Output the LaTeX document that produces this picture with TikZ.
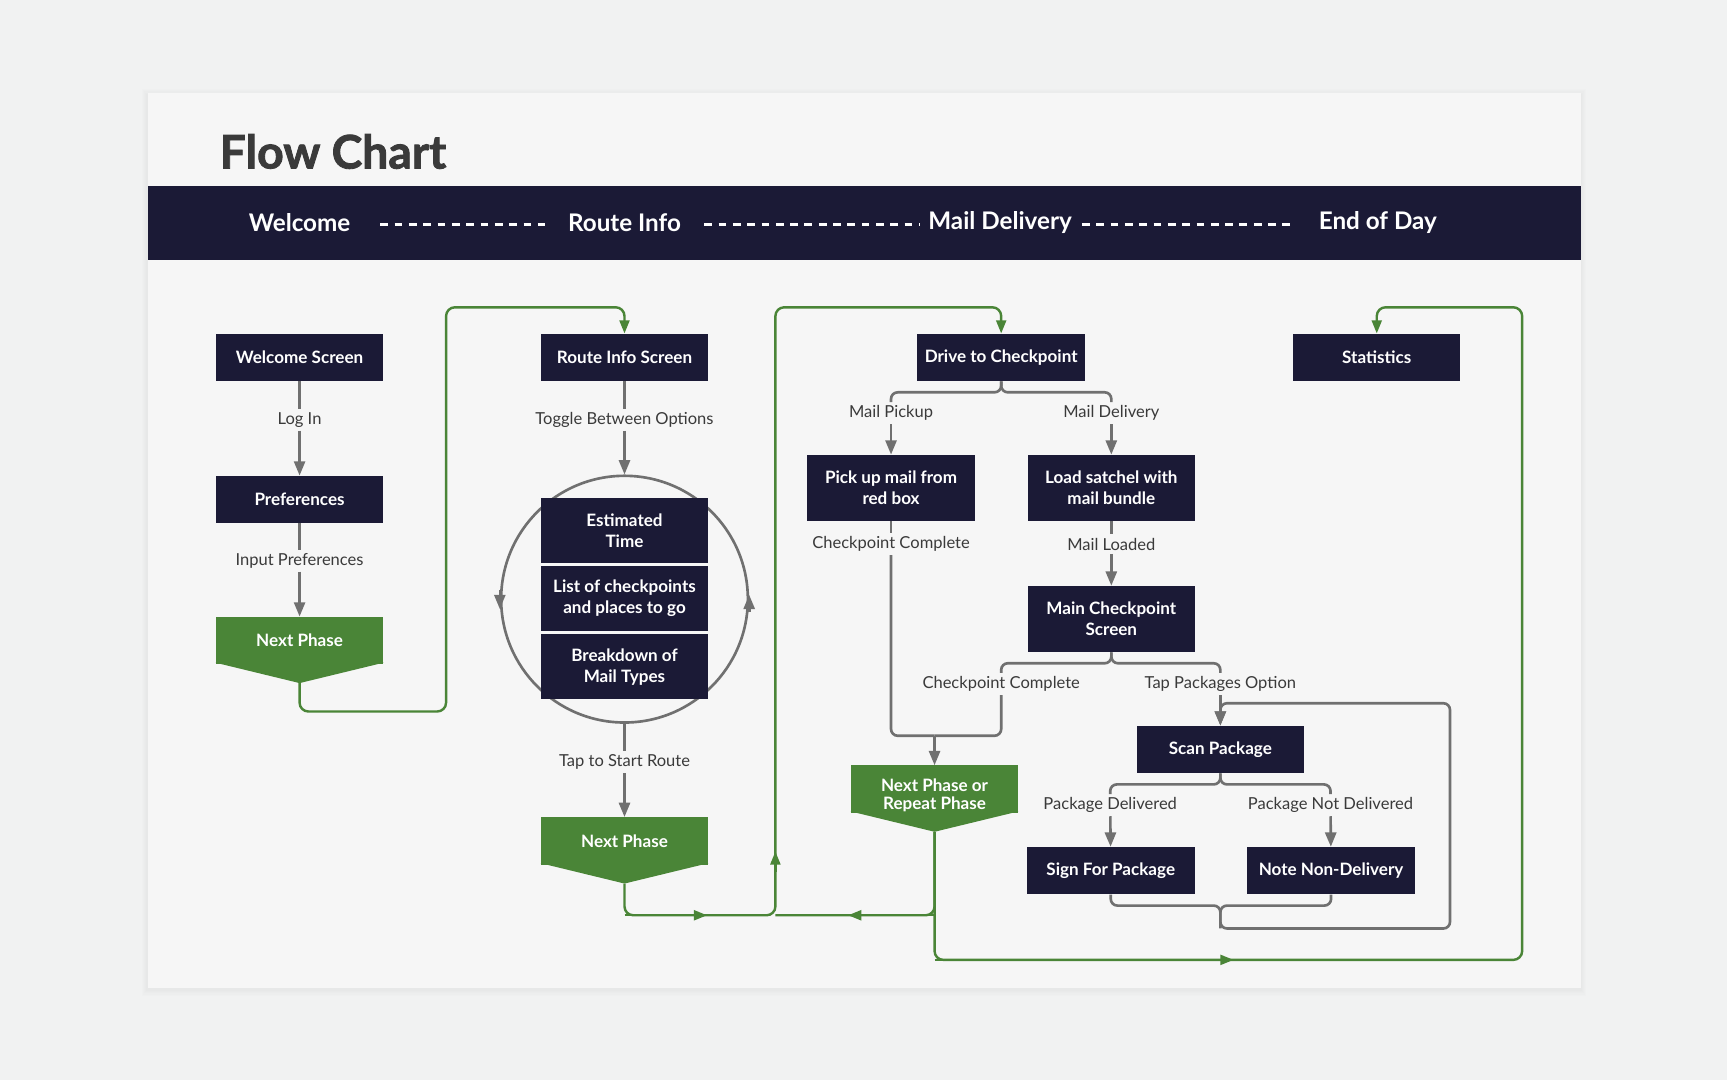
\documentclass[tikz,border=0pt]{standalone}
\usepackage{fontspec}
\setmainfont{Lato}
\newfontfamily\heavyfont[BoldFeatures={FakeBold=1.8}]{Lato}
\usetikzlibrary{arrows.meta,positioning,calc}
\definecolor{navy}{HTML}{1B1A36}
\definecolor{leaf}{HTML}{4A8537}
\definecolor{wire}{HTML}{707070}
\definecolor{card}{HTML}{F6F6F6}
\definecolor{page}{HTML}{F1F2F2}
\definecolor{ink}{HTML}{3A3A3A}
\tikzset{
  screen/.style={fill=navy,text=white,font=\bfseries\fontsize{15.5}{19}\selectfont,
    minimum width=152pt,minimum height=43pt,inner sep=0pt,align=center},
  phase/.style={fill=leaf,text=white,font=\bfseries\fontsize{15.5}{17}\selectfont,
    minimum width=152pt,minimum height=43pt,inner sep=0pt,align=center},
  lbl/.style={font=\fontsize{15}{17}\selectfont,text=ink,inner sep=3pt},
  band/.style={font=\bfseries\fontsize{22}{24}\selectfont,text=white,inner sep=0pt},
  banddash/.style={white,line width=2.6pt,dash pattern=on 7pt off 6pt},
  grayline/.style={wire,line width=2.4pt,rounded corners=6pt},
  flow/.style={grayline,-{Triangle[width=10pt,length=13pt]}},
  greenline/.style={leaf,line width=2.2pt,rounded corners=8pt},
  greenflow/.style={greenline,-{Triangle[width=9pt,length=12pt]}},
}
\begin{document}
\begin{tikzpicture}[x=1pt,y=-1pt]
\useasboundingbox (0,0) rectangle (1568,981);
\fill[page] (0,0) rectangle (1568,981);
% card and shadow
\foreach \s in {1,...,5}
\fill[black,opacity=0.008] (134-\s,84-\s+2) rectangle (1435+\s,897+\s+2);
\fill[card] (134,84) rectangle (1435,897);
\node[anchor=base west,font=\heavyfont\bfseries\fontsize{42}{44}\selectfont,text=ink] (title) at (196,153) {Flow Chart};
% phase band
\fill[navy] (134,169) rectangle (1435,236);
\node[band] (bwelcome) at (272,202) {Welcome};
\node[band] (broute) at (567,202) {Route Info};
\node[band] (bmail) at (908,202) {Mail Delivery};
\node[band] (bend) at (1251,202) {End of Day};
\draw[banddash,shorten <=27pt,shorten >=21pt] ([yshift=-2pt]bwelcome.east) -- ([yshift=-2pt]broute.west);
\draw[banddash,shorten <=21pt,shorten >=7pt] ([yshift=-2pt]broute.east) -- ([yshift=-2pt]bmail.west);
\draw[banddash,shorten <=9pt,shorten >=20pt] ([yshift=-2pt]bmail.east) -- ([yshift=-2pt]bend.west);

% welcome column
\node[screen] (welcome) at (272,324.5) {Welcome Screen};
\node[lbl] (login) at (272,381) {Log In};
\node[screen] (prefs) at (272,453.5) {Preferences};
\node[lbl] (inprefs) at (272,509) {Input Preferences};
\node[phase] (next1) at (272,581.5) {Next Phase};
\fill[leaf] ([yshift=1.5pt]next1.south west) -- ([yshift=1.5pt]next1.south east) -- ($(next1.south)+(0,17)$) coordinate (tip1) -- cycle;
\draw[grayline] (welcome) -- (login);
\draw[flow] (login) -- (prefs);
\draw[grayline] (prefs) -- (inprefs);
\draw[flow] (inprefs) -- (next1);

% route info column
\node[screen] (route) at (567,324.5) {Route Info Screen};
\node[lbl] (toggle) at (567,381) {Toggle Between Options};
\node[circle,draw=wire,line width=2.4pt,minimum size=224pt,inner sep=0pt] (loop) at (567,544) {};
\draw[wire,line width=2.4pt,-{Triangle[width=10pt,length=13pt]}] ($(loop.west)+(0,-8)$) -- ($(loop.west)+(0,9)$);
\draw[wire,line width=2.4pt,-{Triangle[width=10pt,length=13pt]}] ($(loop.east)+(0,12)$) -- ($(loop.east)+(0,-4)$);
\node[screen,minimum height=59pt] (esttime) at (567,481.5) {Estimated\\Time};
\node[screen,minimum height=59pt] (stops) at (567,543.5) {List of checkpoints\\and places to go};
\node[screen,minimum height=59pt] (types) at (567,605.5) {Breakdown of\\Mail Types};
\node[lbl] (startroute) at (567,692) {Tap to Start Route};
\node[phase] (next2) at (567,763.5) {Next Phase};
\fill[leaf] ([yshift=1.5pt]next2.south west) -- ([yshift=1.5pt]next2.south east) -- ($(next2.south)+(0,17)$) coordinate (tip2) -- cycle;
\draw[grayline] (route) -- (toggle);
\draw[flow] (toggle) -- (loop);
\draw[grayline] (loop) -- (startroute);
\draw[flow] (startroute) -- (next2);

% mail delivery column
\node[screen] (drive) at (909,324.5) {Drive to Checkpoint};
\node[lbl] (mpickup) at (809,375) {Mail Pickup};
\node[lbl] (mdeliv) at (1009,375) {Mail Delivery};
\node[screen,minimum height=60pt] (pickup) at (809,443) {Pick up mail from\\red box};
\node[screen,minimum height=60pt] (load) at (1009,443) {Load satchel with\\mail bundle};
\node[lbl] (ccomp1) at (809,494) {Checkpoint Complete};
\node[lbl] (mloaded) at (1009,494) {Mail Loaded};
\node[screen,minimum height=60pt] (main) at (1009,562) {Main Checkpoint\\Screen};
\node[lbl] (ccomp2) at (909,621) {Checkpoint Complete};
\node[lbl] (tappkg) at (1108,621) {Tap Packages Option};
\node[phase] (npr) at (848.5,716.5) {\raisebox{-7pt}[\height][\depth]{\begin{tabular}{@{}c@{}}Next Phase or\\Repeat Phase\end{tabular}}};
\fill[leaf] ([yshift=1.5pt]npr.south west) -- ([yshift=1.5pt]npr.south east) -- ($(npr.south)+(0,17)$) coordinate (tip3) -- cycle;
\node[screen] (scan) at (1108,680.5) {Scan Package};
\node[lbl] (pdeliv) at (1008,731) {Package Delivered};
\node[lbl] (pnotdeliv) at (1208,731) {Package Not Delivered};
\node[screen,minimum width=153pt] (sign) at (1008.5,790.5) {Sign For Package};
\node[screen,minimum width=153pt] (note) at (1208.5,790.5) {Note Non-Delivery};
\coordinate (merge) at (848.5,668);
\coordinate (retB) at (1108,843);
\draw[grayline] (drive.south) -- ++(0,10) -| (mpickup);
\draw[grayline] (drive.south) -- ++(0,10) -| (mdeliv);
\draw[flow] (mpickup) -- (pickup);
\draw[flow] (mdeliv) -- (load);
\draw[grayline] (pickup) -- (ccomp1);
\draw[grayline] (load) -- (mloaded);
\draw[flow] (mloaded) -- (main);
\draw[grayline] (ccomp1) |- (merge);
\draw[grayline] (main.south) -- ++(0,10) -| (ccomp2);
\draw[grayline] (ccomp2) |- (merge);
\draw[flow] (merge) -- (npr);
\draw[grayline] (main.south) -- ++(0,10) -| (tappkg);
\draw[flow] (tappkg) -- (scan);
\draw[grayline] (scan.south) -- ++(0,10) -| (pdeliv);
\draw[grayline] (scan.south) -- ++(0,10) -| (pnotdeliv);
\draw[flow] (pdeliv) -- (sign);
\draw[flow] (pnotdeliv) -- (note);
\draw[grayline] (note.south) -- ++(0,10) -| (retB);
\draw[flow] (sign.south) -- ++(0,10) -| (retB) -- (1316.5,843) -- (1316.5,638.5) -| (scan.north);

% end of day
\node[screen] (stats) at (1250,324.5) {Statistics};

% green phase links
\coordinate (jn) at (704,831);
\draw[greenflow] (tip1) |- (405,646) -- (405,279) -| (route.north);
\draw[greenflow] (tip2) |- (jn) -- (704,279) -| (drive.north);
\draw[greenline] (tip3) |- (jn);
\draw[greenflow] (tip3) |- (1382,871.5) -- (1382,279) -| (stats.north);
\draw[greenflow] (tip2 |- jn) -- (642,831);
\draw[greenflow] (tip3 |- jn) -- (770,831);
\draw[greenflow] (704,792) -- (704,773);
\draw[greenflow] (tip3 |- 0,871.5) -- (1120,871.5);
\end{tikzpicture}
\end{document}
